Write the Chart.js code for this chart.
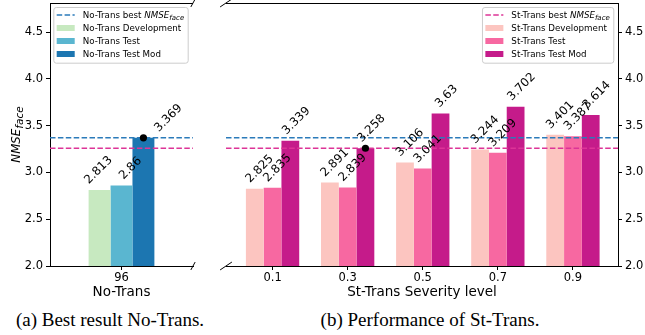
<!DOCTYPE html>
<html>
<head>
<meta charset="utf-8">
<script src="https://cdn.jsdelivr.net/npm/chart.js@4.4.1/dist/chart.umd.min.js"></script>
<style>
  html, body { margin: 0; padding: 0; background: #fff; }
  #wrap { position: relative; width: 645px; height: 335px; overflow: hidden; }
  #left { position: absolute; left: 0; top: 0; }
  #right { position: absolute; left: 205px; top: 0; }
  .cap {
    position: absolute; top: 307px; line-height: 26px; white-space: nowrap;
    font-family: "Liberation Serif", "Times New Roman", serif; font-size: 19px; color: #000;
    transform: translateX(-50%);
  }
</style>
</head>
<body>
<div id="wrap">
  <canvas id="left" width="205" height="303"></canvas>
  <canvas id="right" width="440" height="303"></canvas>
  <div class="cap" style="left:110px">(a) Best result No-Trans.</div>
  <div class="cap" style="left:430px">(b) Performance of St-Trans.</div>
</div>
<script>
// values
const noTransLabels = ['96'];
const noTransDev = [2.813];
const noTransTest = [2.86];
const noTransMod = [3.369];

const severity = [0.1, 0.3, 0.5, 0.7, 0.9];
const stDev = [2.825, 2.891, 3.106, 3.244, 3.401];
const stTest = [2.835, 2.839, 3.041, 3.209, 3.387];
const stMod = [3.339, 3.258, 3.63, 3.702, 3.614];

const bestNoTrans = 3.369;
const bestStTrans = 3.258;
const yTicks = [2.0, 2.5, 3.0, 3.5, 4.0, 4.5];
const yMin = 2.0;
const yMax = 4.81;

const FONT = '"DejaVu Sans", sans-serif';
const LEG = 8.7;
const blueLine = '#2b7bba';
const pinkLine = '#dd3497';

// draw text made of parts (normal / italic / subscript)
const drawParts = (ctx, x, y, parts) => {
    parts.forEach((p) => {
        ctx.font = (p.italic ? 'italic ' : '') + p.size + 'px ' + FONT;
        ctx.fillText(p.text, x, y + (p.dy || 0));
        x += ctx.measureText(p.text).width;
    });
};
const partsWidth = (ctx, parts) => {
    let w = 0;
    parts.forEach((p) => {
        ctx.font = (p.italic ? 'italic ' : '') + p.size + 'px ' + FONT;
        w += ctx.measureText(p.text).width;
    });
    return w;
};

const drawLegend = (ctx, area, side, items) => {
    const rows = 13;
    let maxW = 0;
    items.forEach((it) => { maxW = Math.max(maxW, partsWidth(ctx, it.parts)); });
    const w = 29.4 + maxW + 3.5;
    const h = 8 + rows * (items.length - 1) + 8.7;
    const x0 = side == 'left' ? area.left + 3.3 : area.right - 4.7 - w;
    const y0 = area.top + 4;
    ctx.save();
    ctx.beginPath();
    ctx.roundRect(x0 + 0.5, y0 + 0.5, w, h, 2.5);
    ctx.fillStyle = 'rgba(255,255,255,0.8)';
    ctx.fill();
    ctx.strokeStyle = '#cccccc';
    ctx.lineWidth = 1;
    ctx.stroke();
    items.forEach((it, i) => {
        const cy = y0 + 8 + i * rows;
        if (it.type == 'line') {
            ctx.beginPath();
            ctx.setLineDash([5.5, 2.4]);
            ctx.lineWidth = 1.5;
            ctx.strokeStyle = it.color;
            ctx.moveTo(x0 + 3.4, cy);
            ctx.lineTo(x0 + 3.4 + 18, cy);
            ctx.stroke();
            ctx.setLineDash([]);
        } else {
            ctx.fillStyle = it.color;
            ctx.fillRect(x0 + 3.4, cy - 3, 18, 6);
        }
        ctx.fillStyle = '#000';
        ctx.textBaseline = 'alphabetic';
        ctx.textAlign = 'left';
        drawParts(ctx, x0 + 29.4, cy + 3.1, it.parts);
    });
    ctx.restore();
};

const bestParts = (prefix) => [
    { text: prefix + ' best ', size: LEG },
    { text: 'NMSE', size: LEG, italic: true },
    { text: 'face', size: 7, italic: true, dy: 2 },
];

const decorPlugin = (cfg) => ({
    id: 'decor',
    afterDatasetsDraw(chart) {
        const ctx = chart.ctx;
        const a = chart.chartArea;
        const y = chart.scales.y;
        ctx.save();

        // reference lines
        cfg.lines.forEach((l) => {
            const py = y.getPixelForValue(l.value);
            ctx.beginPath();
            ctx.setLineDash([5.5, 2.4]);
            ctx.lineWidth = 1.5;
            ctx.strokeStyle = l.color;
            ctx.moveTo(a.left, py);
            ctx.lineTo(a.right, py);
            ctx.stroke();
        });
        ctx.setLineDash([]);

        // value labels, rotated 45 degrees
        ctx.font = '11.8px ' + FONT;
        ctx.fillStyle = '#000';
        ctx.textAlign = 'center';
        ctx.textBaseline = 'middle';
        chart.data.datasets.forEach((ds, di) => {
            chart.getDatasetMeta(di).data.forEach((bar, i) => {
                const raw = ds.data[i];
                const val = typeof raw == 'object' ? raw.y : raw;
                const txt = String(val);
                const tw = ctx.measureText(txt).width;
                const side = (tw + 11.8 * 1.16) * Math.SQRT1_2;
                ctx.save();
                ctx.translate(bar.x + cfg.labelShift[di], bar.y - side / 2 - 3);
                ctx.rotate(-Math.PI / 4);
                ctx.fillText(txt, 0, 0);
                ctx.restore();
            });
        });

        // best marker
        const bar = chart.getDatasetMeta(cfg.dot.ds).data[cfg.dot.i];
        ctx.beginPath();
        ctx.fillStyle = '#000';
        ctx.arc(bar.x, bar.y, 3.6, 0, Math.PI * 2);
        ctx.fill();

        // top spine and break marks
        ctx.strokeStyle = '#000';
        ctx.lineWidth = 1;
        const top = Math.round(a.top) + 0.5;
        ctx.beginPath();
        ctx.moveTo(a.left, top);
        ctx.lineTo(a.right, top);
        const bx = cfg.breakSide == 'right' ? a.right : a.left;
        const dx = 0.015 * (a.right - a.left);
        const dy = 0.015 * (a.bottom - a.top);
        [a.top, a.bottom].forEach((by) => {
            ctx.moveTo(bx - dx, by + dy);
            ctx.lineTo(bx + dx, by - dy);
        });
        ctx.stroke();
        ctx.restore();
    },
    afterDraw(chart) {
        const ctx = chart.ctx;
        drawLegend(ctx, chart.chartArea, cfg.legendSide, cfg.legend);
        if (cfg.yTitle) {
            const a = chart.chartArea;
            const parts = [
                { text: 'NMSE', size: 11.8, italic: true },
                { text: 'face', size: 10.5, italic: true, dy: 3 },
            ];
            ctx.save();
            ctx.translate(15, (a.top + a.bottom) / 2);
            ctx.rotate(-Math.PI / 2);
            ctx.fillStyle = '#000';
            ctx.textAlign = 'left';
            ctx.textBaseline = 'alphabetic';
            const w = partsWidth(ctx, parts);
            drawParts(ctx, -w / 2, 5, parts);
            ctx.restore();
        }
    }
});

const yScale = (position, width) => ({
    position: position,
    min: yMin,
    max: yMax,
    afterBuildTicks: (s) => { s.ticks = yTicks.map((v) => ({ value: v })); },
    afterFit: (s) => { s.width = width; s.paddingTop = 0; s.paddingBottom = 0; },
    ticks: {
        color: '#000',
        padding: 3,
        font: { family: 'DejaVu Sans', size: 11.5 },
        callback: (v) => Number(v).toFixed(1),
    },
    grid: { drawOnChartArea: false, drawTicks: true, tickLength: 4, color: '#000' },
    border: { display: true, color: '#000', width: 1 },
});

const xTitle = (text) => ({
    display: true,
    text: text,
    color: '#000',
    padding: { top: 0, bottom: 2 },
    font: { family: 'DejaVu Sans', size: 13.5 },
});

// (a) No-Trans
new Chart(document.querySelector('#left'), {
    type: 'bar',
    data: {
        labels: noTransLabels,
        datasets: [
            { label: 'No-Trans Development', data: noTransDev, backgroundColor: '#c7e9c0' },
            { label: 'No-Trans Test', data: noTransTest, backgroundColor: '#5ab6d0' },
            { label: 'No-Trans Test Mod', data: noTransMod, backgroundColor: '#1c76b1' },
        ]
    },
    options: {
        responsive: false,
        animation: false,
        layout: { padding: { top: 3, left: 0, right: 12, bottom: 0 } },
        datasets: { bar: { categoryPercentage: 0.46, barPercentage: 1 } },
        plugins: { legend: { display: false }, tooltip: { enabled: false } },
        scales: {
            x: {
                offset: true,
                afterFit: (s) => { s.height = 37; s.paddingLeft = 0; s.paddingRight = 0; },
                ticks: { color: '#000', padding: 1, font: { family: 'DejaVu Sans', size: 11.5 } },
                grid: { offset: false, drawOnChartArea: false, drawTicks: true, tickLength: 4, color: '#000' },
                border: { display: true, color: '#000', width: 1 },
                title: xTitle('No-Trans'),
            },
            y: yScale('left', 50),
        }
    },
    plugins: [decorPlugin({
        lines: [{ value: bestNoTrans, color: blueLine }, { value: bestStTrans, color: pinkLine }],
        dot: { ds: 2, i: 0 },
        labelShift: [-1, 9, 25],
        breakSide: 'right',
        legendSide: 'left',
        yTitle: true,
        legend: [
            { type: 'line', color: blueLine, parts: bestParts('No-Trans') },
            { type: 'patch', color: '#c7e9c0', parts: [{ text: 'No-Trans Development', size: LEG }] },
            { type: 'patch', color: '#5ab6d0', parts: [{ text: 'No-Trans Test', size: LEG }] },
            { type: 'patch', color: '#1c76b1', parts: [{ text: 'No-Trans Test Mod', size: LEG }] },
        ],
    })]
});

// (b) St-Trans
const toPoints = (values) => values.map((v, i) => ({ x: severity[i], y: v }));

new Chart(document.querySelector('#right'), {
    type: 'bar',
    data: {
        datasets: [
            { label: 'St-Trans Development', data: toPoints(stDev), backgroundColor: '#fcc5c0' },
            { label: 'St-Trans Test', data: toPoints(stTest), backgroundColor: '#f768a1' },
            { label: 'St-Trans Test Mod', data: toPoints(stMod), backgroundColor: '#c51b8a' },
        ]
    },
    options: {
        responsive: false,
        animation: false,
        layout: { padding: { top: 3, left: 21, right: 0, bottom: 0 } },
        datasets: { bar: { categoryPercentage: 0.71, barPercentage: 1 } },
        plugins: { legend: { display: false }, tooltip: { enabled: false } },
        scales: {
            x: {
                type: 'linear',
                offset: false,
                min: -0.024,
                max: 1.02,
                afterBuildTicks: (s) => { s.ticks = severity.map((v) => ({ value: v })); },
                afterFit: (s) => { s.height = 37; s.paddingLeft = 0; s.paddingRight = 0; },
                ticks: { color: '#000', padding: 1, font: { family: 'DejaVu Sans', size: 11.5 }, callback: (v) => String(v) },
                grid: { offset: false, drawOnChartArea: false, drawTicks: true, tickLength: 4, color: '#000' },
                border: { display: true, color: '#000', width: 1 },
                title: xTitle('St-Trans Severity level'),
            },
            y: yScale('right', 27),
        }
    },
    plugins: [decorPlugin({
        lines: [{ value: bestNoTrans, color: blueLine }, { value: bestStTrans, color: pinkLine }],
        dot: { ds: 2, i: 1 },
        labelShift: [5, 5, 6],
        breakSide: 'left',
        legendSide: 'right',
        yTitle: false,
        legend: [
            { type: 'line', color: pinkLine, parts: bestParts('St-Trans') },
            { type: 'patch', color: '#fcc5c0', parts: [{ text: 'St-Trans Development', size: LEG }] },
            { type: 'patch', color: '#f768a1', parts: [{ text: 'St-Trans Test', size: LEG }] },
            { type: 'patch', color: '#c51b8a', parts: [{ text: 'St-Trans Test Mod', size: LEG }] },
        ],
    })]
});
</script>
</body>
</html>
